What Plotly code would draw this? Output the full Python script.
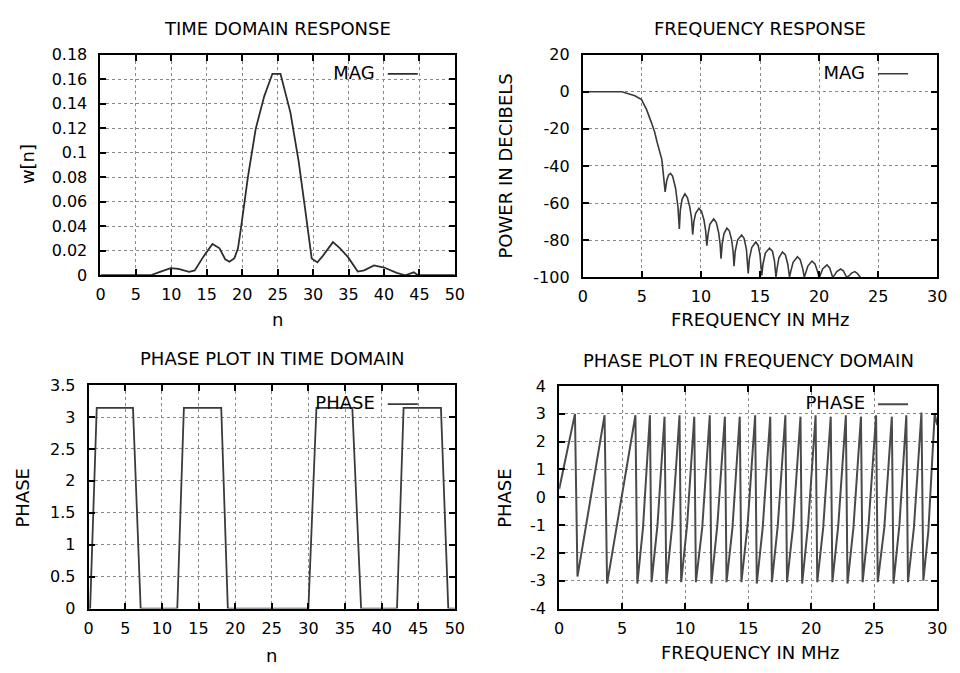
import plotly.graph_objects as go

# ---------------- data ----------------
# Time domain response |w[n]|
td_n = [0, 7.1, 8.5, 9.9, 11.0, 12.5, 13.3, 14.5, 15.8, 16.8, 17.6, 18.2, 18.9, 19.4,
        19.86, 20.8, 21.9, 23.1, 24.26, 25.4, 26.8, 27.96, 28.9, 29.8, 30.6, 31.4,
        32.8, 33.8, 34.9, 36.3, 37.2, 38.6, 40.0, 41.8, 43.0, 44.2, 44.8, 50]
td_w = [0, 0, 0.003, 0.0058, 0.0052, 0.0028, 0.004, 0.015, 0.0256, 0.022, 0.013, 0.011,
        0.014, 0.022, 0.040, 0.080, 0.1195, 0.146, 0.1644, 0.1644, 0.1327, 0.093, 0.053,
        0.0137, 0.0105, 0.016, 0.027, 0.022, 0.015, 0.003, 0.004, 0.008, 0.0063, 0.002,
        0.0, 0.0024, 0.0, 0]

# Frequency response (dB)
fr_f = [0, 3.3, 3.86, 4.4, 4.97, 5.39, 5.8, 6.08, 6.3, 6.69, 6.97,
        7.1, 7.25, 7.42, 7.6, 7.85, 8.05, 8.17,
        8.25, 8.4, 8.64, 8.85, 9.05, 9.2, 9.3,
        9.4, 9.55, 9.83, 10.05, 10.25, 10.4, 10.5,
        10.6, 10.75, 11.08, 11.3, 11.5, 11.62, 11.7,
        11.8, 11.95, 12.2, 12.4, 12.6, 12.72, 12.8,
        12.9, 13.1, 13.44, 13.65, 13.85, 13.93, 14.0,
        14.1, 14.3, 14.64, 14.85, 15.0, 15.08, 15.15,
        15.25, 15.45, 15.8, 16.05, 16.22, 16.3, 16.35,
        16.45, 16.6, 16.9, 17.15, 17.35, 17.44, 17.5,
        17.6, 17.8, 18.17, 18.4, 18.6, 18.7, 18.75,
        18.85, 19.05, 19.4, 19.65, 19.85, 20.0,
        20.1, 20.3, 20.67, 20.9, 21.05, 21.15,
        21.3, 21.5, 21.83, 22.05, 22.25, 22.35,
        22.55, 22.75, 23.03, 23.25, 23.4, 23.5]
fr_db = [0, 0, -1.1, -2.2, -4.2, -9.5, -16.5, -21.7, -27.5, -36.6, -54,
         -48, -45, -44, -45.5, -52, -62, -74,
         -64, -58, -55, -57, -62, -68, -77,
         -70, -65.5, -62.8, -64.5, -69, -75, -83,
         -77, -71.5, -68.6, -70.5, -76, -82, -90,
         -82, -76.5, -73.5, -75, -80, -86, -94,
         -86, -80, -77.3, -79, -85, -90, -98,
         -90, -84, -81, -83, -88, -93, -99,
         -93, -87, -84.3, -86, -91, -95, -100,
         -95, -89.5, -86.4, -88, -93, -96, -100,
         -97, -92, -89, -90.5, -95, -98, -100,
         -98, -94, -91.3, -92.8, -96.5, -100,
         -99, -95.5, -93.4, -95, -98, -100,
         -99, -97, -95.6, -96.5, -99, -100,
         -99.2, -97.8, -97, -98, -99.3, -100]

# Phase in time domain
pt_n = [0, 0.2, 1.1, 6.05, 7.1, 12.1, 13.0, 18.1, 19.0, 30.0, 31.1, 36.0, 37.2,
        42.1, 43.0, 48.1, 49.1, 50]
pt_phase = [0, 0, 3.1416, 3.1416, 0, 0, 3.1416, 3.1416, 0, 0, 3.1416, 3.1416, 0,
            0, 3.1416, 3.1416, 0, 0]

# Phase in frequency domain
pf_f = [0, 1.25, 1.45, 3.6, 3.8, 6.05, 6.2,
        6.65, 7.2, 7.33, 7.8, 8.36, 8.5, 8.95, 9.55, 9.68, 10.15, 10.72, 10.85,
        11.35, 11.95, 12.08, 12.55, 13.15, 13.28, 13.75, 14.33, 14.46, 14.95, 15.55,
        15.68, 16.15, 16.75, 16.88, 17.35, 17.95, 18.08, 18.55, 19.15, 19.28, 19.75,
        20.35, 20.48, 20.95, 21.55, 21.68, 22.15, 22.75, 22.88, 23.35, 23.95, 24.08,
        24.55, 25.15, 25.28, 25.8, 26.4, 26.53, 27.0, 27.55, 27.68, 28.15, 28.75,
        28.9, 29.3, 29.8, 30.0]
pf_phase = [0.3, 3.0, -2.85, 2.95, -3.1, 2.95, -3.1,
            -1.1, 2.95, -3.05, -1.0, 2.9, -3.1, -1.1, 2.95, -3.05, -1.0, 2.9, -3.05,
            -1.1, 2.95, -3.1, -1.0, 2.9, -3.05, -1.1, 2.9, -3.05, -1.0, 2.95,
            -3.1, -1.1, 2.9, -3.05, -1.0, 2.95, -3.05, -1.1, 2.9, -3.1, -1.0,
            2.95, -3.05, -1.1, 2.9, -3.05, -1.0, 2.95, -3.1, -1.1, 2.9, -3.05,
            -1.0, 2.95, -3.05, -1.1, 2.9, -3.1, -1.0, 2.95, -3.05, -1.1, 3.05,
            -3.0, -1.2, 3.0, 2.6]

x50_ticks = [0, 5, 10, 15, 20, 25, 30, 35, 40, 45, 50]
x30_ticks = [0, 5, 10, 15, 20, 25, 30]
y_td_ticks = [0, 0.02, 0.04, 0.06, 0.08, 0.1, 0.12, 0.14, 0.16, 0.18]
y_td_text = ["0", "0.02", "0.04", "0.06", "0.08", "0.1", "0.12", "0.14", "0.16", "0.18"]
y_fr_ticks = [-100, -80, -60, -40, -20, 0, 20]
y_pt_ticks = [0, 0.5, 1, 1.5, 2, 2.5, 3, 3.5]
y_pt_text = ["0", "0.5", "1", "1.5", "2", "2.5", "3", "3.5"]
y_pf_ticks = [-4, -3, -2, -1, 0, 1, 2, 3, 4]

titles = ["TIME DOMAIN RESPONSE", "FREQUENCY RESPONSE",
          "PHASE PLOT IN TIME DOMAIN", "PHASE PLOT IN FREQUENCY DOMAIN"]
legend_names = ["MAG", "MAG", "PHASE", "PHASE"]

# ---------------- layout geometry ----------------
W, H = 960, 673
FONT = "DejaVu Sans"


def px(x):
    return x / W


def py(y):
    return 1 - y / H


boxes = {  # left, right, top, bottom in pixels
    1: (97, 457, 47, 274),
    2: (587, 947, 47, 276),
    3: (85, 457, 387, 617),
    4: (563, 947, 388, 617),
}

fig = go.Figure()

series = [
    (td_n, td_w, 1, "#2e2e2e", 1.8),
    (fr_f, fr_db, 2, "#3a3a3a", 1.6),
    (pt_n, pt_phase, 3, "#3a3a3a", 1.8),
    (pf_f, pf_phase, 4, "#4a4a4a", 2.0),
]
for xs, ys, k, col, wd in series:
    sfx = "" if k == 1 else str(k)
    fig.add_trace(go.Scatter(
        x=xs, y=ys, mode="lines", name="",
        line=dict(color=col, width=wd),
        xaxis="x" + sfx, yaxis="y" + sfx,
        legend="legend" + sfx, showlegend=True,
    ))

axis_common = dict(
    showline=True, linecolor="black", linewidth=2, mirror="allticks",
    ticks="inside", ticklen=6, tickwidth=1.5, tickcolor="black",
    showgrid=True, gridcolor="#8a8a8a", griddash="dot", gridwidth=1,
    zeroline=False, tickfont=dict(family=FONT, size=16, color="black"),
)

xinfo = {1: ([0, 50], x50_ticks), 2: ([0, 30], x30_ticks),
         3: ([0, 50], x50_ticks), 4: ([0, 30], x30_ticks)}
yinfo = {1: ([0, 0.18], y_td_ticks, y_td_text),
         2: ([-100, 20], y_fr_ticks, [str(v) for v in y_fr_ticks]),
         3: ([0, 3.5], y_pt_ticks, y_pt_text),
         4: ([-4, 4], y_pf_ticks, [str(v) for v in y_pf_ticks])}

lay = {}
for k, (l, r, t, b) in boxes.items():
    sfx = "" if k == 1 else str(k)
    xr, xt = xinfo[k]
    yr, yt, ytt = yinfo[k]
    lay["xaxis" + sfx] = dict(axis_common, domain=[px(l), px(r)], range=xr,
                              tickvals=xt, anchor="y" + sfx, ticklabelstandoff=4)
    lay["yaxis" + sfx] = dict(axis_common, domain=[py(b), py(t)], range=yr,
                              tickvals=yt, ticktext=ytt, anchor="x" + sfx,
                              ticklabelstandoff=8)

# legends (gnuplot style: key text then line sample), top-right inside each panel
leg_pos = {1: (430, 67), 2: (928, 67), 3: (430, 407), 4: (928, 407)}
for k, (lx, ly) in leg_pos.items():
    sfx = "" if k == 1 else str(k)
    lay["legend" + sfx] = dict(
        x=px(lx), y=py(ly), xanchor="right", yanchor="middle",
        bgcolor="rgba(0,0,0,0)", borderwidth=0,
        title=dict(text=legend_names[k - 1], side="left",
                   font=dict(family=FONT, size=18, color="black")),
        font=dict(family=FONT, size=18, color="black"),
        itemwidth=30,
    )

annotations = []
title_pos = {1: (277, 20), 2: (767, 20), 3: (271, 360), 4: (755, 362)}
for k, (tx, ty) in title_pos.items():
    annotations.append(dict(text=titles[k - 1], x=px(tx), y=py(ty), xref="paper", yref="paper",
                            xanchor="center", yanchor="middle", showarrow=False,
                            font=dict(family=FONT, size=18, color="black")))
xt_pos = [("n", 277, 320), ("FREQUENCY IN MHz", 767, 320), ("n", 271, 665),
          ("FREQUENCY IN MHz", 757, 662)]
for txt, tx, ty in xt_pos:
    annotations.append(dict(text=txt, x=px(tx), y=py(ty), xref="paper", yref="paper",
                            xanchor="center", yanchor="middle", showarrow=False,
                            font=dict(family=FONT, size=18, color="black")))
yt_pos = [("w[n]", 23, 160), ("POWER IN DECIBELS", 508, 162), ("PHASE", 18, 503),
          ("PHASE", 508, 503)]
for txt, tx, ty in yt_pos:
    annotations.append(dict(text=txt, x=px(tx), y=py(ty), xref="paper", yref="paper",
                            xanchor="center", yanchor="middle", showarrow=False,
                            textangle=-90,
                            font=dict(family=FONT, size=18, color="black")))

fig.update_layout(
    width=W, height=H, margin=dict(l=0, r=0, t=0, b=0),
    paper_bgcolor="white", plot_bgcolor="white",
    annotations=annotations, **lay,
)

fig.write_html("out.html", post_script="document.body.style.margin='0px';")
